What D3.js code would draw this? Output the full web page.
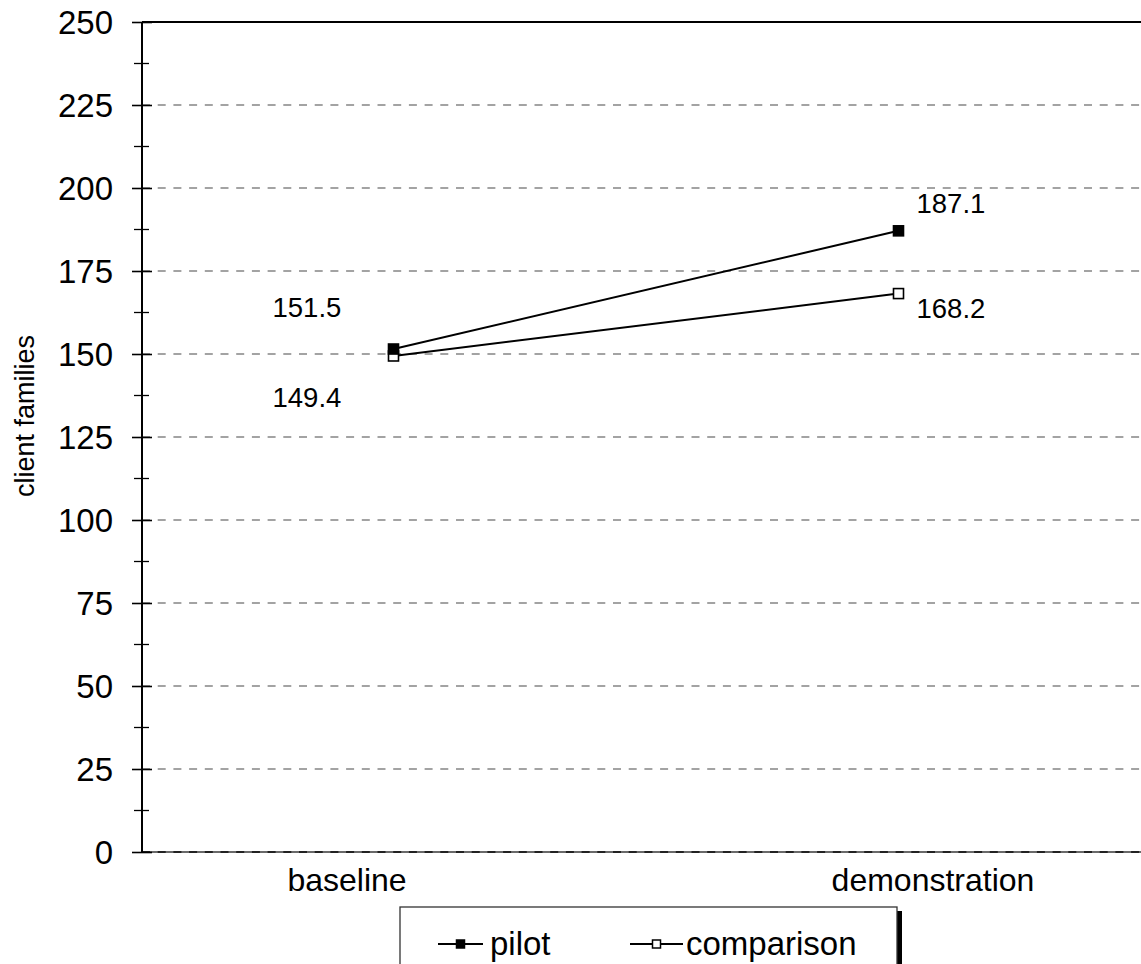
<!DOCTYPE html>
<html>
<head>
<meta charset="utf-8">
<script src="https://cdn.jsdelivr.net/npm/d3@7/dist/d3.min.js"></script>
<style>
  html, body { margin: 0; padding: 0; background: #fff; }
  svg { display: block; font-family: "Liberation Sans", Arial, sans-serif; }
</style>
</head>
<body>
<svg id="chart" width="1141" height="964"></svg>
<script>
// Client families served, pilot vs comparison sites
const categories = ["baseline", "demonstration"];
const pilotValues = [151.5, 187.1];
const comparisonValues = [149.4, 168.2];
const seriesNames = ["pilot", "comparison"];
const yTickValues = [0, 25, 50, 75, 100, 125, 150, 175, 200, 225, 250];
const yMinorTickValues = [12.5, 37.5, 62.5, 87.5, 112.5, 137.5, 162.5, 187.5, 212.5, 237.5];
const yAxisTitle = "client families";

const W = 1141, H = 964;
const plot = { left: 142, top: 22, bottom: 852, right: 1151 };

const svg = d3.select("#chart");

const y = d3.scaleLinear().domain([0, 250]).range([plot.bottom, plot.top]);
const x = d3.scaleBand().domain(categories).range([plot.left - 1, plot.right]);
const xc = c => x(c) + x.bandwidth() / 2;
// category captions sit a little apart from the data points
const xCaption = d3.scalePoint().domain(categories).range([347, 933]);

// dashed gridlines
svg.append("g")
  .selectAll("line")
  .data(yTickValues.filter(v => v > 0 && v < 250))
  .join("line")
  .attr("x1", plot.left).attr("x2", W)
  .attr("y1", d => y(d)).attr("y2", d => y(d))
  .attr("stroke", "#858585").attr("stroke-width", 1.6)
  .attr("stroke-dasharray", "8,7.7");

// plot frame: solid top edge and base line
svg.append("line")
  .attr("x1", plot.left).attr("x2", W)
  .attr("y1", y(250)).attr("y2", y(250))
  .attr("stroke", "#000").attr("stroke-width", 2);
svg.append("line")
  .attr("x1", plot.left).attr("x2", W)
  .attr("y1", y(0)).attr("y2", y(0))
  .attr("stroke", "#6a6a6a").attr("stroke-width", 2);
svg.append("line")
  .attr("x1", plot.left).attr("x2", W)
  .attr("y1", y(0)).attr("y2", y(0))
  .attr("stroke", "#222").attr("stroke-width", 2)
  .attr("stroke-dasharray", "8,7.7");

// y axis
const yAxis = svg.append("g")
  .attr("transform", `translate(${plot.left},0)`)
  .call(d3.axisLeft(y).tickValues(yTickValues).tickSize(10).tickPadding(19).tickFormat(d3.format("d")));
yAxis.select(".domain").attr("stroke", "#000").attr("stroke-width", 2)
  .attr("d", `M0,${y(0)}V${y(250)}`);
yAxis.selectAll(".tick line").attr("x1", 10).attr("stroke", "#000").attr("stroke-width", 1.6);
yAxis.selectAll(".tick text")
  .attr("font-family", "Liberation Sans, Arial, sans-serif")
  .attr("font-size", 33).attr("fill", "#000").attr("dy", "0.35em");

svg.append("g")
  .selectAll("line")
  .data(yMinorTickValues)
  .join("line")
  .attr("x1", plot.left - 8).attr("x2", plot.left + 7)
  .attr("y1", d => y(d)).attr("y2", d => y(d))
  .attr("stroke", "#000").attr("stroke-width", 1.3);

// y axis title
svg.append("text")
  .attr("transform", "translate(34,416) rotate(-90)")
  .attr("text-anchor", "middle")
  .attr("font-size", 27).attr("fill", "#000")
  .text(yAxisTitle);

// category captions
svg.append("g")
  .selectAll("text")
  .data(categories)
  .join("text")
  .attr("x", d => xCaption(d)).attr("y", 891)
  .attr("text-anchor", "middle")
  .attr("font-size", 32).attr("fill", "#000")
  .text(d => d);

// series
const series = [
  { name: seriesNames[0], values: pilotValues, fill: "#000" },
  { name: seriesNames[1], values: comparisonValues, fill: "#fff" }
];

const line = d3.line().x(d => xc(d.cat)).y(d => y(d.v));
const mSize = 10;

series.forEach(s => {
  const pts = categories.map((c, i) => ({ cat: c, v: s.values[i] }));
  svg.append("path")
    .datum(pts)
    .attr("d", line)
    .attr("fill", "none").attr("stroke", "#000").attr("stroke-width", 2);
  s.pts = pts;
});

series.slice().reverse().forEach(s => {
  svg.append("g")
    .selectAll("rect")
    .data(s.pts)
    .join("rect")
    .attr("x", d => xc(d.cat) - mSize / 2)
    .attr("y", d => y(d.v) - mSize / 2)
    .attr("width", mSize).attr("height", mSize)
    .attr("fill", s.fill).attr("stroke", "#000").attr("stroke-width", 1.6);
});

// value labels, placed around each point
const labelPlacement = {
  "pilot|baseline": { dx: -121, dy: -32 },
  "comparison|baseline": { dx: -121, dy: 51 },
  "pilot|demonstration": { dx: 18, dy: -18 },
  "comparison|demonstration": { dx: 18, dy: 24 }
};
series.forEach(s => {
  svg.append("g")
    .selectAll("text")
    .data(s.pts)
    .join("text")
    .attr("x", d => xc(d.cat) + labelPlacement[s.name + "|" + d.cat].dx)
    .attr("y", d => y(d.v) + labelPlacement[s.name + "|" + d.cat].dy)
    .attr("font-size", 27.5).attr("fill", "#000")
    .text(d => d3.format(".1f")(d.v));
});

// legend
const lg = svg.append("g");
lg.append("rect")
  .attr("x", 902 - 5).attr("y", 911).attr("width", 5).attr("height", 80)
  .attr("fill", "#000");
lg.append("rect")
  .attr("x", 400).attr("y", 907).attr("width", 497).attr("height", 80)
  .attr("fill", "#fff").attr("stroke", "#333").attr("stroke-width", 1.3);

const legendItems = [
  { s: series[0], x0: 438, x1: 483, tx: 490 },
  { s: series[1], x0: 630, x1: 683, tx: 686 }
];
const legY = 944, lm = 8;
legendItems.forEach(it => {
  lg.append("line")
    .attr("x1", it.x0).attr("x2", it.x1).attr("y1", legY).attr("y2", legY)
    .attr("stroke", "#000").attr("stroke-width", 2);
  lg.append("rect")
    .attr("x", (it.x0 + it.x1) / 2 - lm / 2).attr("y", legY - lm / 2)
    .attr("width", lm).attr("height", lm)
    .attr("fill", it.s.fill).attr("stroke", "#000").attr("stroke-width", 1.5);
  lg.append("text")
    .attr("x", it.tx).attr("y", legY + 11)
    .attr("font-size", 33).attr("fill", "#000")
    .text(it.s.name);
});
</script>
</body>
</html>
